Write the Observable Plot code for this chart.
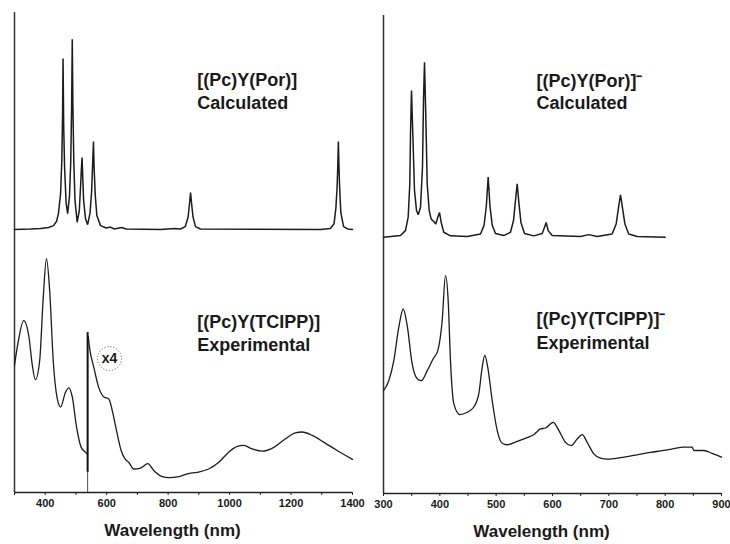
<!DOCTYPE html>
<html><head><meta charset="utf-8">
<script src="https://cdn.jsdelivr.net/npm/d3@7"></script>
<script src="https://cdn.jsdelivr.net/npm/@observablehq/plot@0.6"></script>
<style>
body{margin:0;background:#fff;}
#wrap{position:relative;width:730px;height:544px;overflow:hidden;}
#left{position:absolute;left:0;top:0;width:370px;height:544px;}
#right{position:absolute;left:365px;top:0;width:365px;height:544px;}
</style></head><body>
<div id="wrap"><div id="left"></div><div id="right"></div></div>
<script>
// ---------- data (wavelength nm, intensity a.u.) ----------
const leftTicks = [400, 600, 800, 1000, 1200, 1400];
const leftMinor = [300, 500, 700, 900, 1100, 1300];
const rightTicks = [300, 400, 500, 600, 700, 800, 900];
const rightMinor = [350, 450, 550, 650, 750, 850];

// [(Pc)Y(Por)] calculated (relative to its own baseline)
const leftCalc = [[300,0],[352,0.1],[385,0.2],[411,0.4],[427,0.8],[437,1.7],[443,3.3],[450,7.5],[454,14.4],[456.5,24],[458,35.6],[460,22],[463,13],[468,5.5],[473,3.3],[479,7],[483,14],[486,26],[488,39.6],[490,26],[493,14],[497,6],[504,1.5],[511,4],[515,9],[518,13],[520,15],[522,11],[525,6],[531,2.3],[538,1],[546,3.5],[551,8],[554.5,14],[557,18.3],[559,13],[563,7],[568,2.9],[580,0.8],[599,0.3],[612,0.5],[625,0.1],[648,0.4],[664,0.1],[775,0],[821,0.2],[840,0.1],[856,0.6],[865,2.6],[869,5],[873,7.7],[877,5],[881,2.6],[889,0.6],[905,0.1],[1296,0],[1328,0.2],[1340,1.2],[1346,4.5],[1350,9],[1352,13],[1354,18.3],[1356,13],[1358,9],[1362,3.5],[1371,0.6],[1384,0.1],[1400,0]];

// [(Pc)Y(TCIPP)] experimental, part measured as is
const leftExpA = [[300,26.5],[311,31],[330,35.8],[347,32.4],[358,26.5],[368,23.5],[382,27.5],[393,40],[404,48.7],[415,41.5],[426,27.5],[439,19.6],[450,17.8],[466,20.9],[477,21.8],[488,19.9],[502,13.6],[517,9.4],[531,8.4],[538,7.9]];
// [(Pc)Y(TCIPP)] experimental, part multiplied by 4
const leftExpB = [[540,32.5],[544,30.3],[558,26.1],[574,21.9],[591,19.9],[607,19.5],[618,17.1],[632,12.9],[647,8.75],[661,6.9],[672,6.25],[688,4.9],[710,5.1],[734,6],[753,4.6],[781,3.3],[802,3.1],[835,3.3],[862,3.9],[894,4.2],[932,4.9],[965,6.3],[997,8.4],[1025,9.6],[1046,9.8],[1073,9.1],[1106,8.6],[1144,9.4],[1182,11.2],[1214,12.4],[1236,12.6],[1269,11.9],[1306,10.5],[1350,8.75],[1400,6.9]];
const splice = {nm: 538, top: 33.3, thinTop: 4.2};

// [(Pc)Y(Por)]- calculated
const rightCalc = [[300,0],[330,0.36],[339,1.4],[343.8,4.2],[346.7,11.2],[347.9,21.6],[349.7,30.7],[352,21.7],[355,9.8],[358.6,5.6],[361.6,4.7],[365.7,6.3],[369.2,14.6],[371,28.6],[372.8,36.6],[375.1,25.1],[377.6,11.2],[381.1,5.6],[384.7,3.8],[389.3,3.3],[392.8,2.8],[396.4,4.2],[399.4,5.2],[402.4,3.1],[407,1.05],[418.9,0.3],[448.6,0.15],[472.2,0.7],[478.5,2.5],[482.5,6.5],[485.8,12.6],[489,6.5],[493,2.5],[498.8,0.8],[513.5,0.36],[525.4,1.05],[530.8,3.5],[534.3,7.7],[537.3,11.2],[540.5,7],[544,3.1],[550.3,0.8],[566.8,0.3],[581.7,0.8],[585.8,2.1],[588.8,3.1],[592.3,1.4],[599.4,0.36],[649.7,0.15],[664.4,0.56],[679.3,0.15],[705.9,0.7],[713,2.8],[717.3,6.3],[720.7,8.9],[724,6.3],[728.5,2.8],[735.4,0.7],[750.3,0.15],[800,0]];

// [(Pc)Y(TCIPP)]- experimental
const rightExp = [[300,21.5],[309.4,23.6],[318.3,27.8],[327.2,34.8],[335,38.6],[342.1,35.1],[350.9,27.1],[359.8,24],[366.9,23.6],[377.6,25.7],[388.2,28.2],[396.4,29.9],[404.2,36.2],[410,45.6],[414.8,40.4],[418.9,27.8],[424.8,18.8],[435.4,16.5],[448.6,17],[460.3,18.1],[469.2,20.9],[475.2,26.4],[479.8,28.9],[485.1,26.4],[492.9,19.5],[501.8,13.2],[510.7,10.5],[519.6,10.2],[537.3,10.9],[555.1,11.7],[566.8,12.3],[578.7,13.5],[587.6,13.7],[601.2,14.9],[611.2,13.2],[623,10.7],[633.2,10],[643.8,11.4],[652.7,12.3],[661.6,10.7],[673.3,8.3],[685.2,7.4],[697.1,7.2],[720.7,7.5],[750.3,8.1],[773.9,8.6],[797.5,9],[815.3,9.4],[833,9.7],[848,9.7],[850.8,9],[868.5,9],[883.4,8.4],[900,7.6]];

// annotations
const leftLabels = [
  {text: "[(Pc)Y(Por)]", x: 895, y: 85.8},
  {text: "Calculated", x: 895, y: 81},
  {text: "[(Pc)Y(TCIPP)]", x: 895, y: 35.4},
  {text: "Experimental", x: 895, y: 30.6}
];
const rightLabels = [
  {text: "[(Pc)Y(Por)]\u207B", x: 571.6, y: 86.2},
  {text: "Calculated", x: 571.6, y: 81.6},
  {text: "[(Pc)Y(TCIPP)]\u207B", x: 571.6, y: 36.5},
  {text: "Experimental", x: 571.6, y: 31.4}
];
const scaleNote = [{text: "x4", x: 609, y: 27.9}];
const axisTitle = "Wavelength (nm)";

const LEFT_CALC_OFFSET = 54.8;
const RIGHT_CALC_OFFSET = 53.6;
const FONT = "Liberation Sans, Arial, Helvetica, sans-serif";
const INK = "#1c1c1c";

const toObj = (arr, off = 0) => arr.map(([nm, v]) => ({nm, v: v + off}));

function panel(o) {
  const marks = [
    Plot.ruleX([o.domain[0]], {stroke: "#333", strokeWidth: 1.5}),
    Plot.ruleY([0], {stroke: "#222", strokeWidth: 1.5}),
    Plot.axisX(o.major, {tickSize: 3, tickPadding: 4, tickFormat: d => String(d), label: null, fontSize: 11, fontWeight: "bold", stroke: "#222"}),
    Plot.axisX(o.minor, {tickSize: 3, tickFormat: () => "", label: null, stroke: "#222"}),
    Plot.line(toObj(o.calc, o.calcOffset), {x: "nm", y: "v", stroke: INK, strokeWidth: 1.5, strokeLinejoin: "miter"}),
    ...o.exp.map(seg => Plot.line(toObj(seg), {x: "nm", y: "v", stroke: INK, strokeWidth: 1.3, curve: "monotone-x"})),
    Plot.text(o.labels, {x: "x", y: "y", text: "text", textAnchor: "start", fontSize: 18, fontWeight: "bold", fill: "#1a1a1a"}),
    Plot.text([axisTitle], {frameAnchor: "bottom", dy: 43, dx: -11, fontSize: 17, fontWeight: "bold", fill: "#1a1a1a"}),
    ...(o.extra || [])
  ];
  return Plot.plot({
    width: o.width, height: 544,
    marginLeft: o.ml, marginRight: o.mr, marginTop: o.mt, marginBottom: 544 - o.bottom,
    x: {domain: o.domain},
    y: {domain: [0, 100], axis: null},
    style: {fontFamily: FONT, background: "transparent", maxWidth: "none", overflow: "visible", color: "#1a1a1a"},
    marks
  });
}

const leftExtra = [
  Plot.ruleX([splice], {x: "nm", y1: 0, y2: "thinTop", stroke: "#222", strokeWidth: 0.8}),
  Plot.ruleX([splice], {x: "nm", y1: "thinTop", y2: "top", stroke: "#111", strokeWidth: 2}),
  Plot.dot(scaleNote, {x: "x", y: "y", r: 12, stroke: "#666", strokeWidth: 1, strokeDasharray: "1.2,1.8", fill: "none"}),
  Plot.text(scaleNote, {x: "x", y: "y", text: "text", fontSize: 14, fontWeight: "bold", fill: "#1a1a1a"})
];

document.getElementById("left").append(panel({
  width: 370, ml: 14, mr: 18, mt: 12, bottom: 492,
  domain: [300, 1400], major: leftTicks, minor: leftMinor,
  calc: leftCalc, calcOffset: LEFT_CALC_OFFSET, exp: [leftExpA, leftExpB],
  labels: leftLabels, extra: leftExtra
}));
document.getElementById("right").append(panel({
  width: 365, ml: 18, mr: 9, mt: 15, bottom: 493,
  domain: [300, 900], major: rightTicks, minor: rightMinor,
  calc: rightCalc, calcOffset: RIGHT_CALC_OFFSET, exp: [rightExp],
  labels: rightLabels
}));
</script>
</body></html>
